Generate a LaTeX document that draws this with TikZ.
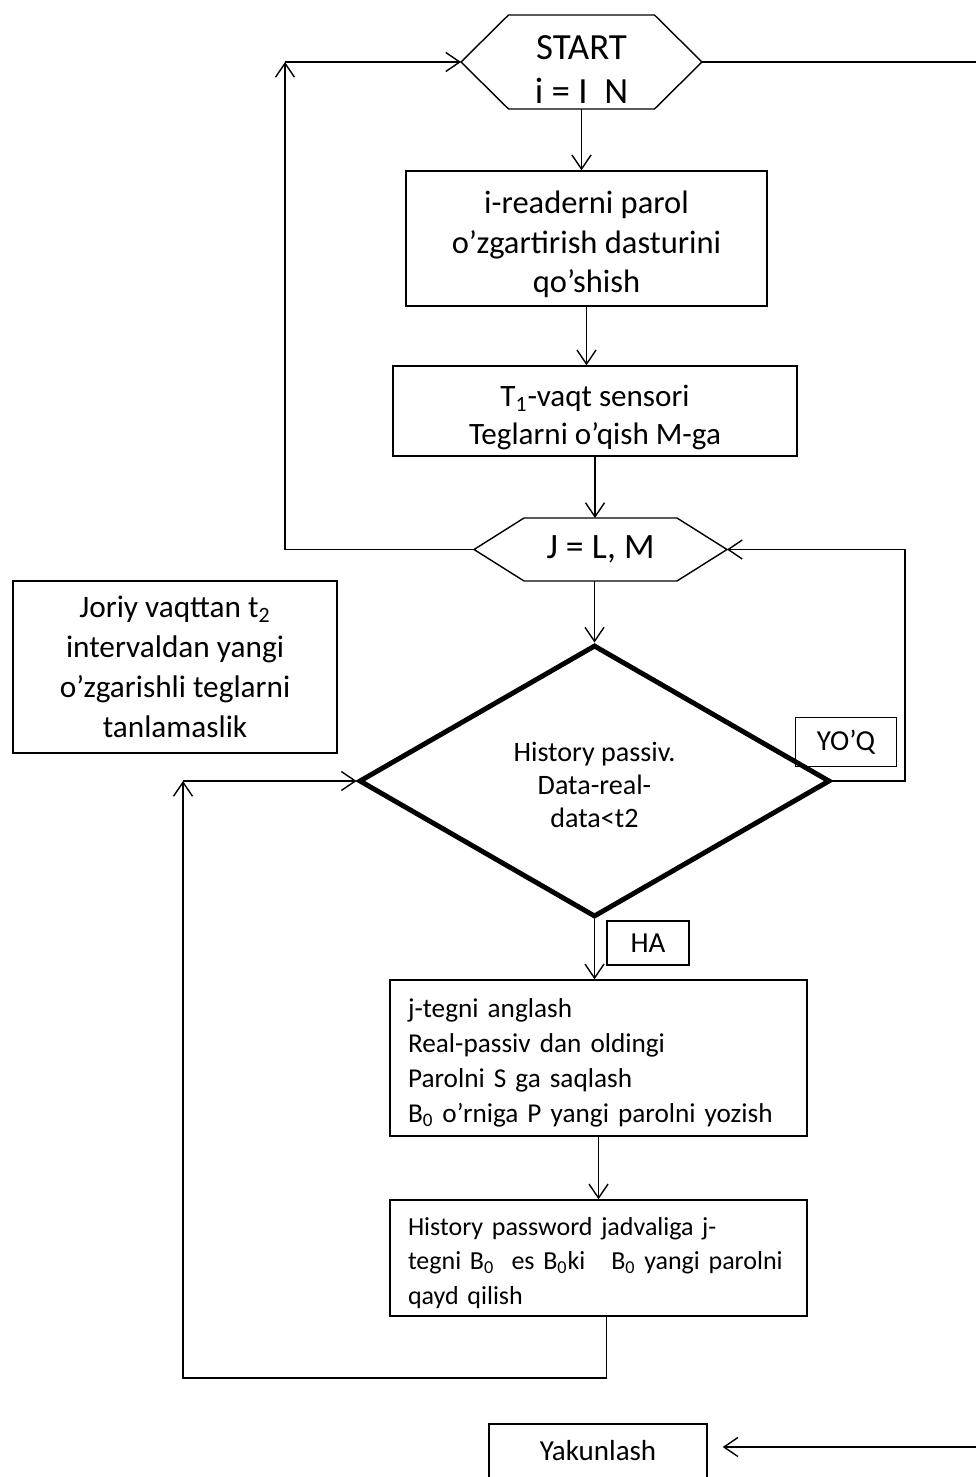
\documentclass[tikz,border=0pt]{standalone}
\usepackage{fontspec}
\setmainfont{Carlito}
\usepackage{tikz}
\usetikzlibrary{arrows.meta,shapes.geometric,calc}

% hexagon outline round a named node
\newcommand{\hexframe}[2]{%
  \draw (#1.west) -- ([xshift=#2]#1.north west) -- ([xshift=-#2]#1.north east)
    -- (#1.east) -- ([xshift=-#2]#1.south east) -- ([xshift=#2]#1.south west) -- cycle;}
% taller first line, so the text sits lower in its box
\newcommand{\lift}[1]{\rule{0pt}{#1}}

\begin{document}
\begin{tikzpicture}[x=0.02cm, y=-0.02cm, line width=0.8pt,
    >={Straight Barb[length=2.8mm,width=3.8mm]},
    box/.style={rectangle, draw, align=center, inner sep=0pt},
    hexbox/.style={inner sep=0pt, outer sep=0pt, align=center},
    decision/.style={diamond, draw, line width=2.8pt, inner sep=0pt, align=center, font=\fontsize{16}{18.7}\selectfont},
    tag/.style={rectangle, draw, inner sep=0pt, font=\fontsize{16.5}{19}\selectfont}]
    \clip (0,0) rectangle (976,1477);

    \node[hexbox, minimum width=4.82cm, minimum height=1.88cm, font=\fontsize{21}{25}\selectfont] (start) at (581.5,62) {\lift{22.5pt}START\\i = I~~N};
    \hexframe{start}{0.95cm}
    \node[box, minimum width=7.22cm, minimum height=2.7cm, font=\fontsize{18.5}{22.7}\selectfont] (reader) at (586.5,238.5) {\lift{19.5pt}i-readerni parol\\o’zgartirish dasturini\\qo’shish};
    \node[box, minimum width=8.08cm, minimum height=1.8cm, font=\fontsize{17.7}{21.5}\selectfont] (sensor) at (595,411) {\lift{19.5pt}T\textsubscript{1}-vaqt sensori\\Teglarni o’qish M-ga};
    \node[hexbox, minimum width=5.06cm, minimum height=1.26cm, font=\fontsize{20.3}{24}\selectfont] (jloop) at (600.5,549.5) {J = L, M};
    \hexframe{jloop}{1.0cm}
    \node[box, minimum width=6.48cm, minimum height=3.44cm, font=\fontsize{17.8}{22.7}\selectfont] (note) at (175,667) {Joriy vaqttan t\textsubscript{2}\\intervaldan yangi\\o’zgarishli teglarni\\tanlamaslik};
    \node[decision, minimum width=9.42cm, minimum height=5.44cm] (check) at (594.5,781) {\lift{15.5pt}History passiv.\\Data-real-\\data<t2};
    \node[tag, minimum width=2.02cm, minimum height=0.98cm] (no) at (846,742) {YO’Q};
    \node[tag, minimum width=1.64cm, minimum height=0.88cm] (yes) at (648,943) {HA};
    \node[box, align=left, text width=7.62cm, inner xsep=0.36cm, minimum height=3.12cm, font=\fontsize{15.5}{19.8}\selectfont] (act) at (598.5,1058) {\lift{16.5pt}j-tegni anglash\\Real-passiv dan oldingi\\Parolni S ga saqlash\\B\textsubscript{0} o’rniga P yangi parolni yozish};
    \node[box, align=left, text width=7.62cm, inner xsep=0.36cm, minimum height=2.32cm, font=\fontsize{14.8}{19.8}\selectfont] (hist) at (598.5,1258) {\lift{16pt}History password jadvaliga j-\\tegni B\textsubscript{0}\ \ es B\textsubscript{0}ki\ \ \ B\textsubscript{0} yangi parolni\\qayd qilish};
    \node[box, minimum width=4.36cm, minimum height=1.08cm, font=\fontsize{16.5}{19}\selectfont] (fin) at (598,1451) {Yakunlash};

    \draw[->] (start.south) -- (start.south |- reader.north);
    \draw[->] (reader.south) -- (reader.south |- sensor.north);
    \draw[->] (sensor.south) -- (sensor.south |- jloop.north);
    \draw[->] (jloop.south -| check.north) -- (check.north);
    \draw[->] (check.south) -- (check.south |- act.north);
    \draw[->] (act.south) -- (hist.north);

    % loop back to START
    \coordinate (upleft) at (285,62);
    \draw[->] (jloop.west) -| (upleft);
    \draw[->] (upleft) -- (start.west);
    % YO'Q branch
    \coordinate (upright) at (905,549.5);
    \draw[->] (check.east) -| (upright) -- (jloop.east);
    % back to the test
    \coordinate (lowleft) at (183,1378);
    \coordinate (midleft) at (183,781);
    \draw[->] ([xshift=0.16cm]hist.south) |- (lowleft) -- (midleft);
    \draw[->] (midleft) -- (check.west);
    % to the end
    \coordinate (endtop) at (976,62);
    \draw (start.east) -- (endtop);
    \coordinate (endbot) at (976,1447);
    \draw[->] (endbot) -- ([xshift=0.3cm]fin.east |- endbot);
\end{tikzpicture}
\end{document}
